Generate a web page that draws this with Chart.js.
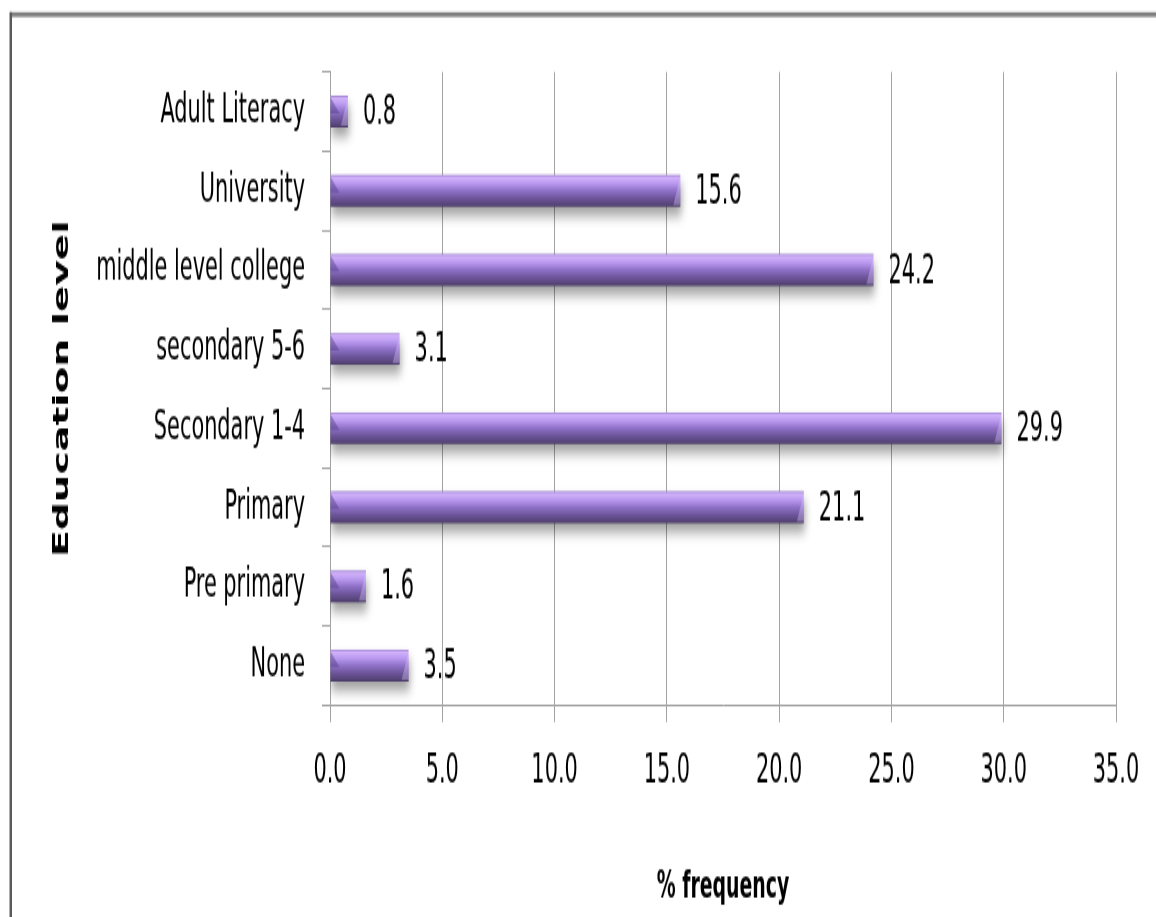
<!DOCTYPE html>
<html>
<head>
<meta charset="utf-8">
<title>Education level</title>
<script src="https://cdn.jsdelivr.net/npm/chart.js@4.4.1/dist/chart.umd.min.js"></script>
<style>
  html, body { margin: 0; padding: 0; background: #ffffff; overflow: hidden; }
  #wrap { width: 1156px; height: 917px; overflow: hidden; }
  /* the drawing is made on a short canvas and stretched to full height,
     which gives the tall, narrow lettering of the chart */
  #chart { display: block; transform-origin: 0 0; transform: scaleY(1.7703); }
</style>
</head>
<body>
<div id="wrap"><canvas id="chart" width="1156" height="518"></canvas></div>
<script>
// ---- data ----
const categories = ['Adult Literacy', 'University', 'middle level college', 'secondary 5-6',
                    'Secondary 1-4', 'Primary', 'Pre primary', 'None'];
const frequency = [0.8, 15.6, 24.2, 3.1, 29.9, 21.1, 1.6, 3.5];
const xTicks = [0, 5, 10, 15, 20, 25, 30, 35];

// ---- styling ----
const NARROW = "'DejaVu Sans Condensed', 'Liberation Sans Narrow', sans-serif";
const GRID = '#a3a3a3';
const CAT_PCT = 0.40;
const LABEL_SIZE = 23.2;

// purple cylinder-style shading for each bar
function barGradient(ctx) {
  const chart = ctx.chart;
  const y = chart.scales && chart.scales.y;
  if (!y || ctx.type !== 'data') return '#8a6cc4';
  const center = y.getPixelForValue(ctx.dataIndex);
  const band = (y.bottom - y.top) / categories.length;
  const h = band * CAT_PCT;
  if (!isFinite(center) || !isFinite(h) || h <= 0) return '#8a6cc4';
  const g = chart.ctx.createLinearGradient(0, center - h / 2, 0, center + h / 2);
  g.addColorStop(0.00, '#9c80cf');
  g.addColorStop(0.08, '#d2b2fb');
  g.addColorStop(0.28, '#b898ee');
  g.addColorStop(0.50, '#8e71c7');
  g.addColorStop(0.75, '#6c5499');
  g.addColorStop(0.93, '#574579');
  g.addColorStop(1.00, '#463863');
  return g;
}

// outer frame: grey band along the top, darker rule down the left side
const frame = {
  id: 'frame',
  beforeDraw(chart) {
    const c = chart.ctx;
    c.save();
    c.fillStyle = '#808080';
    c.fillRect(10, 6.8, chart.width - 10, 2.8);
    c.fillStyle = '#5a5a5a';
    c.fillRect(9.5, 6.8, 2.5, chart.height);
    c.restore();
  }
};

// soft drop shadow under the bars
const barShadow = {
  id: 'barShadow',
  beforeDatasetDraw(chart) {
    const c = chart.ctx;
    c.save();
    c.shadowColor = 'rgba(0,0,0,0.38)';
    c.shadowBlur = 7;
    c.shadowOffsetX = 1;
    c.shadowOffsetY = 5;
  },
  afterDatasetDraw(chart) {
    chart.ctx.restore();
  }
};

// bevelled ends and value labels
const barDetail = {
  id: 'barDetail',
  afterDatasetsDraw(chart) {
    const c = chart.ctx;
    const meta = chart.getDatasetMeta(0);
    c.save();
    meta.data.forEach((el, i) => {
      const top = el.y - el.height / 2;
      const bot = el.y + el.height / 2;
      const x0 = el.base, x1 = el.x;
      const w = Math.min(9, (x1 - x0) * 0.6);
      // left end facet
      c.fillStyle = 'rgba(80,60,130,0.45)';
      c.beginPath();
      c.moveTo(x0, top + 1);
      c.lineTo(x0 + w, top + el.height * 0.55);
      c.lineTo(x0, top + el.height * 0.55);
      c.closePath();
      c.fill();
      // right end facet
      c.fillStyle = 'rgba(225,205,255,0.35)';
      c.beginPath();
      c.moveTo(x1, top + 1);
      c.lineTo(x1 - Math.min(7, w), bot - 1);
      c.lineTo(x1, bot - 1);
      c.closePath();
      c.fill();
      // value label
      c.fillStyle = '#000';
      c.font = LABEL_SIZE + 'px ' + NARROW;
      c.textAlign = 'left';
      c.textBaseline = 'middle';
      c.fillText(frequency[i].toFixed(1), x1 + 15, el.y + 1.2);
    });
    c.restore();
  }
};

new Chart(document.getElementById('chart'), {
  type: 'bar',
  data: {
    labels: categories,
    datasets: [{
      label: '% frequency',
      data: frequency,
      backgroundColor: barGradient,
      borderWidth: 0,
      barPercentage: 1,
      categoryPercentage: CAT_PCT
    }]
  },
  options: {
    indexAxis: 'y',
    responsive: false,
    animation: false,
    devicePixelRatio: 1,
    layout: { padding: { top: 40.7, right: 40, left: 0, bottom: 0 } },
    plugins: {
      legend: { display: false },
      tooltip: { enabled: false }
    },
    scales: {
      x: {
        min: 0,
        max: 35,
        afterBuildTicks: s => { s.ticks = xTicks.map(v => ({ value: v })); },
        afterFit: s => { s.height = 119.7; },
        grid: { color: GRID, lineWidth: 1, tickLength: 9.6 },
        border: { color: GRID, width: 1 },
        ticks: {
          color: '#000',
          padding: 14,
          maxRotation: 0,
          autoSkip: false,
          font: { family: NARROW, size: LABEL_SIZE },
          callback: v => Number(v).toFixed(1)
        },
        title: {
          display: true,
          text: '% frequency',
          color: '#000',
          font: { family: NARROW, size: 21, weight: 'bold' },
          padding: { top: 0, bottom: 4 }
        }
      },
      y: {
        afterFit: s => { s.width = 330; },
        grid: { drawOnChartArea: false, offset: true, tickLength: 8, color: GRID, lineWidth: 1 },
        border: { color: GRID, width: 1 },
        ticks: {
          color: '#000',
          padding: 17,
          font: { family: NARROW, size: LABEL_SIZE }
        },
        title: {
          display: true,
          text: 'Education level',
          color: '#000',
          font: { family: "'DejaVu Sans', sans-serif", size: 22, weight: 'bold' },
          padding: { top: 49, bottom: 0 }
        }
      }
    }
  },
  plugins: [frame, barShadow, barDetail]
});
</script>
</body>
</html>
